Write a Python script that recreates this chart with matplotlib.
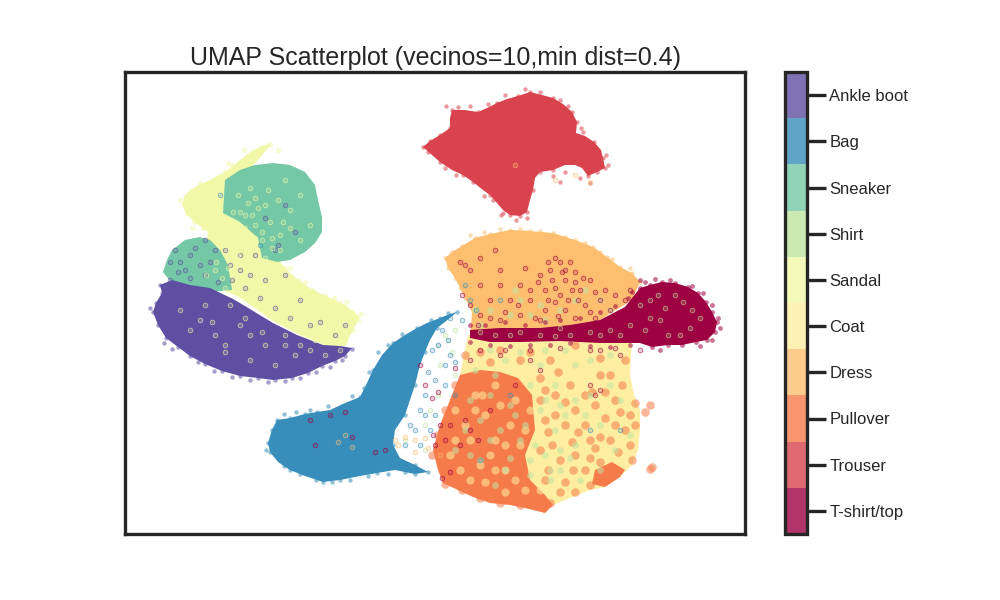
# -*-coding:utf-8-*-
import matplotlib
matplotlib.use('Agg')
import matplotlib.pyplot as plt
import numpy as np
from matplotlib.cm import ScalarMappable
from matplotlib.colors import BoundaryNorm

plt.rcParams['font.family'] = ['Liberation Sans', 'DejaVu Sans']

class_names = ['T-shirt/top', 'Trouser', 'Pullover', 'Dress', 'Coat', 'Sandal', 'Shirt', 'Sneaker', 'Bag', 'Ankle boot']

# contornos de cada nube (no hay escala visible en los ejes)
sandal_area = [(272,143),(262,146),(250,152),(238,162),(225,172),(210,180),(195,187),(185,195),(182,205),(187,215),(197,224),(208,232),(205,250),(208,285),(237,296),(255,308),(273,321),(300,335),(327,346),(345,346),(352,332),(360,317),(345,305),(328,297),(313,290),(298,280),(285,268),(280,262),(255,220),(240,180),(258,160)]
sneaker_area = [(225,180),(240,170),(255,165),(273,163),(290,165),(305,172),(315,185),(318,200),(322,217),(322,232),(315,243),(305,252),(290,260),(277,262),(262,258),(258,238),(240,222),(223,213)]
sneaker_low_area = [(200,237),(185,240),(172,250),(167,260),(163,272),(175,287),(210,292),(232,290),(228,265),(220,250),(210,240)]
boot_area = [(153,312),(156,303),(162,293),(160,285),(172,280),(190,285),(210,288),(233,299),(245,306),(258,314),(273,323),(297,335),(323,345),(340,346),(352,348),(345,356),(335,361),(322,366),(308,373),(292,378),(273,380),(258,378),(240,376),(222,371),(205,364),(190,356),(178,347),(166,338),(158,325)]
trouser_area = [(423,147),(430,141),(440,135),(450,128),(450,118),(452,110),(465,110),(478,112),(487,108),(497,103),(507,99),(518,96),(530,92),(542,95),(553,98),(563,104),(572,112),(577,122),(576,133),(585,136),(594,142),(601,150),(603,158),(605,168),(597,172),(588,176),(582,168),(575,165),(565,165),(553,170),(540,172),(535,178),(533,190),(530,200),(527,212),(520,216),(510,215),(503,210),(497,203),(490,195),(483,190),(473,182),(463,175),(452,170),(440,162),(432,155)]
dress_area = [(445,258),(452,252),(462,246),(475,238),(490,234),(510,230),(530,231),(553,233),(575,240),(593,247),(607,257),(620,267),(632,273),(640,282),(632,300),(600,320),(560,340),(500,345),(470,340),(472,312),(465,298),(460,288),(455,278),(448,268)]
bag_area = [(268,443),(272,430),(277,420),(290,418),(305,414),(317,412),(330,410),(345,403),(360,397),(367,383),(373,370),(382,355),(393,343),(405,335),(417,328),(427,323),(440,318),(450,314),(457,312),(445,322),(437,328),(430,340),(425,352),(420,365),(415,385),(410,400),(405,415),(395,430),(393,445),(400,458),(415,465),(428,472),(415,474),(395,470),(377,473),(360,476),(340,480),(323,482),(305,476),(290,470),(278,462),(270,452)]
coat_area = [(468,335),(500,335),(560,335),(600,335),(632,338),(630,375),(634,395),(640,410),(640,430),(638,450),(632,465),(620,477),(605,487),(590,490),(570,498),(553,505),(540,500),(480,480),(445,450),(455,400)]
pullover_area = [(460,375),(480,370),(500,372),(518,378),(532,395),(535,430),(525,455),(530,480),(545,495),(553,505),(545,513),(537,511),(525,508),(510,505),(490,503),(473,497),(458,490),(443,483),(438,470),(433,450),(440,425),(450,400)]
pullover_low_area = [(595,470),(612,462),(625,470),(620,477),(605,487),(592,484)]
tshirt_area = [(470,330),(500,328),(540,328),(570,325),(600,320),(625,307),(640,288),(650,285),(662,282),(675,283),(688,287),(698,293),(706,302),(712,312),(717,322),(715,332),(707,340),(696,342),(682,345),(668,345),(652,347),(640,343),(600,343),(560,341),(520,342),(490,342),(470,338)]

# bordes irregulares de las nubes
sandal_edge = [(270,144),(262,147),(255,151),(247,156),(240,161),(232,165),(225,172),(218,177),(208,183),(198,187),(190,191),(186,197),(184,205),(187,213),(194,222),(203,228),(285,268),(298,280),(313,290),(325,295),(340,303),(352,312),(358,320),(353,330),(345,342),(278,150),(244,150),(228,163),(200,183),(180,200),(192,228),(334,298),(346,302),(361,314),(305,282),(290,268)]
boot_edge = [(153,312),(156,303),(162,293),(165,285),(166,338),(158,325),(178,347),(190,356),(205,364),(222,371),(240,376),(258,378),(275,380),(292,378),(308,373),(322,366),(335,361),(345,356),(352,349),(160,285),(150,308),(164,343),(172,349),(198,362),(214,371),(232,377),(250,380),(268,382),(285,381),(300,378),(316,372),(330,367),(342,360)]
trouser_edge = [(423,147),(430,141),(440,135),(450,128),(452,110),(478,112),(497,103),(518,96),(530,92),(553,98),(572,112),(577,122),(594,142),(603,158),(605,168),(597,172),(588,176),(580,178),(553,170),(540,172),(533,190),(527,212),(527,218),(520,216),(510,215),(503,213),(490,195),(473,182),(463,175),(440,162),(470,170),(553,176),(565,172),(560,182),(590,183),(446,106),(458,107),(470,106),(488,104),(505,95),(525,89),(540,92),(560,100),(568,106),(581,128),(583,132),(606,155),(608,165),(484,196),(493,200),(501,215),(516,220),(456,175),(445,168),(428,152)]
dress_edge = [(445,258),(452,252),(462,246),(475,238),(490,234),(510,230),(530,231),(553,233),(575,240),(593,247),(607,257),(620,267),(632,273),(640,282),(448,268),(455,278),(460,288),(465,298),(470,235),(484,232),(500,229),(520,229),(540,231),(565,237),(585,243),(600,252),(612,259),(630,268)]
bag_edge = [(268,443),(272,430),(277,420),(290,418),(305,414),(317,412),(360,397),(373,370),(393,343),(417,328),(440,318),(457,312),(437,328),(425,352),(415,385),(405,415),(393,445),(415,465),(428,472),(415,474),(377,473),(340,480),(323,482),(290,470),(270,452),(284,414),(296,412),(310,410),(328,406),(352,396),(364,388),(369,372),(378,352),(388,345),(402,334),(431,320),(448,313),(266,450),(284,466),(300,474),(316,480),(332,482),(350,480),(368,476),(388,474),(405,472)]
tshirt_edge = [(640,288),(650,285),(662,282),(675,283),(688,287),(698,293),(706,302),(712,312),(717,322),(715,332),(707,340),(696,342),(682,345),(668,345),(652,347),(645,282),(655,279),(670,280),(692,286),(703,293),(712,305),(718,318),(720,328),(712,340),(700,346),(660,350),(630,345),(610,347),(590,346),(570,343),(550,345),(530,345),(510,346),(490,345),(470,342),(470,325),(485,325),(505,322),(525,325),(545,322),(560,320),(580,318),(600,312),(615,306),(628,298),(632,292),(640,280)]

# manchas dentro de la zona mezclada de abajo
pullover_spots = [(555,395),(575,410),(595,405),(615,400),(565,425),(590,440),(610,440),(575,455),(600,462),(545,420),(560,460),(570,385),(600,375),(540,400),(585,470),(615,425),(630,445),(520,360),(490,362),(550,360),(575,345),(500,350),(630,415),(625,430),(645,412),(650,405),(635,403),(652,467),(650,469),(565,482),(548,470),(552,445),(578,432),(605,418),(622,385),(592,392),(610,375),(540,378),(558,372),(530,352),(480,352),(465,355),(618,452),(595,448),(573,470),(625,360),(600,358),(545,390),(565,402),(585,395),(605,392),(548,432),(585,425),(600,437),(620,412),(635,425),(632,460),(555,415),(572,442),(590,458),(610,475),(560,492),(575,492),(590,485),(540,450),(545,480),(538,505),(550,503),(520,505),(500,503),(480,498),(462,490),(445,484),(432,455),(438,435),(445,410),(455,385)]
coat_spots = [(470,440),(485,415),(495,440),(510,425),(520,445),(505,470),(480,465),(465,425),(515,400),(495,385),(475,395),(450,455),(525,490),(505,492),(485,482),(535,470),(460,470),(530,410),(490,455),(475,410),(500,405),(525,430),(455,440),(515,480),(495,470),(470,480),(540,490),(482,395),(505,445),(455,410)]
shirt_spots = [(470,400),(490,395),(510,405),(530,385),(480,420),(500,430),(520,440),(540,410),(555,430),(575,445),(600,425),(615,450),(480,460),(505,470),(530,475),(550,470),(495,485),(590,395),(610,385),(575,365),(520,352),(545,350),(490,350),(560,405),(535,445),(515,415),(585,415),(600,470),(560,450),(465,430),(455,450),(520,300),(545,320),(575,300),(595,325),(620,320),(510,315),(480,325),(540,305),(495,375),(540,365),(555,385),(525,425),(575,400),(550,480),(570,458),(475,370),(505,360),(565,350),(590,360),(610,355),(490,310),(515,290),(560,310),(530,315),(600,300),(610,310),(585,290),(475,310),(545,455),(560,470),(580,480),(530,460),(510,458),(490,440),(470,455),(545,400),(565,415),(620,400),(630,435)]

# anillos sueltos encima de los grupos
crimson_rings = [(470,360),(455,368),(438,392),(432,398),(425,385),(420,365),(433,435),(440,425),(445,440),(435,445),(450,425),(465,420),(470,430),(478,440),(460,445),(490,410),(515,385),(470,270),(465,265),(480,285),(500,270),(520,285),(460,262),(540,370),(590,385),(595,395),(600,390),(330,415),(345,412),(375,452),(385,450),(310,420),(315,445),(352,437),(600,350),(620,355),(500,355),(450,472),(442,478),(530,360),(550,270),(560,262),(565,280),(575,272),(545,290),(560,295),(580,290),(590,280),(530,300),(545,310),(565,310),(585,305),(600,300),(610,310),(520,315),(500,320),(555,258),(535,318),(575,318),(595,318),(620,312),(625,300),(552,280),(570,262),(583,278),(538,282),(572,290),(555,302),(595,292),(615,295),(490,300),(510,300),(480,315),(540,275),(565,270),(548,262),(578,300),(605,290),(630,290),(470,305),(462,295),(500,285),(525,268),(480,258),(495,250),(555,288),(562,272),(568,300),(548,300),(575,282),(590,312),(530,290),(518,305),(505,312),(490,318),(478,325),(540,320),(558,316),(610,320),(633,310),(640,350),(615,348),(590,350),(560,348),(530,350),(505,350),(480,350)]
green_rings = [(448,340),(438,345),(455,330),(430,410),(438,395),(440,365),(452,352),(425,425),(405,440),(425,450),(445,335),(455,375),(650,300),(660,320),(675,295),(692,310),(645,330),(680,335),(630,325),(610,330),(570,335),(540,335),(510,335),(560,328),(600,335),(520,332),(665,308),(683,302),(700,318),(668,335),(650,318),(690,328),(658,295),(640,305),(620,335),(590,332),(555,336),(495,335),(480,332)]
bag_rings = [(448,340),(438,345),(450,355),(445,365),(435,380),(455,362),(425,395),(420,410),(415,430),(420,445),(435,415),(430,430),(455,395),(450,318),(462,320),(470,300),(476,310),(480,460),(510,395),(590,430),(620,430),(500,300),(465,285),(220,195),(260,245),(442,330),(432,350),(428,372),(445,385),(425,415),(410,425),(405,445)]
orange_rings = [(398,445),(405,437),(415,452),(428,448),(352,447),(338,442),(345,435),(395,440),(515,165),(555,180),(590,182),(575,175),(425,438),(440,455),(415,440)]
boot_rings = [(205,240),(190,255),(180,262),(200,265),(215,250),(230,265),(240,255),(255,255),(275,250),(285,205),(295,232),(278,245),(265,218),(240,270),(170,262),(175,250),(195,248),(185,270),(210,262),(225,250),(250,275),(265,280),(285,275),(300,300),(320,322),(335,335),(345,325),(310,325),(218,282),(232,280),(205,275),(190,278),(178,272),(170,280),(245,288),(260,298),(275,308),(290,318)]
yellow_rings = [(180,310),(200,320),(215,335),(225,345),(240,325),(250,335),(265,345),(285,345),(295,355),(310,350),(325,355),(230,305),(205,305),(250,360),(275,365),(245,318),(262,332),(300,345),(212,322),(340,350),(225,352),(190,330),(345,335),(315,340),(285,335),(245,215),(255,225),(240,235),(262,240),(272,248),(250,250),(235,222),(280,235),(265,258),(225,245),(233,212),(248,203),(290,228),(258,208),(270,222),(243,243),(255,238),(280,250),(238,255),(228,268),(240,278),(216,262),(206,275),(225,288),(238,195),(250,188),(268,190),(285,180),(300,195),(290,210),(300,240),(310,225),(245,228),(252,215),(262,232),(272,238),(283,222),(265,205),(278,200),(215,270),(222,278),(232,255),(245,265),(258,272),(240,212),(255,198)]


cmap = plt.get_cmap('Spectral', 10)

fig = plt.figure(figsize=(10, 6), dpi=100)
ax = fig.add_axes([0.125, 0.11, 0.62, 0.77])


def area(contorno, idx):
    pts = np.array(contorno)
    ax.fill(pts[:, 0], pts[:, 1], color=cmap(idx), linewidth=0)


def puntos(nube, idx, tam):
    pts = np.array(nube)
    ax.scatter(pts[:, 0], pts[:, 1], s=tam, color=cmap(idx), linewidths=0, alpha=0.55)


def anillos(nube, idx):
    # relleno flojo y borde mas marcado, como los puntos originales
    pts = np.array(nube)
    r, g, b, _ = cmap(idx)
    ax.scatter(pts[:, 0], pts[:, 1], s=11, facecolor=(r, g, b, 0.2), edgecolor=(r, g, b, 0.65), linewidths=0.6)


# el orden importa: lo que va encima tapa a lo anterior
area(sandal_area, 5)
puntos(sandal_edge, 5, 14)
area(sneaker_area, 7)
area(sneaker_low_area, 7)
area(boot_area, 9)
puntos(boot_edge, 9, 10)
area(trouser_area, 1)
puntos(trouser_edge, 1, 10)
area(dress_area, 3)
puntos(dress_edge, 3, 10)
area(bag_area, 8)
puntos(bag_edge, 8, 10)
area(coat_area, 4)
area(pullover_area, 2)
area(pullover_low_area, 2)
puntos(coat_spots, 4, 35)
puntos(pullover_spots, 2, 38)
puntos(shirt_spots, 6, 24)
area(tshirt_area, 0)
puntos(tshirt_edge, 0, 12)

anillos(green_rings, 6)
anillos(crimson_rings, 0)
anillos(bag_rings, 8)
anillos(orange_rings, 3)
anillos(boot_rings, 9)
anillos(yellow_rings, 5)

# ejes en la misma escala de lectura de los puntos
ax.set_xlim(125, 745)
ax.set_ylim(534, 72)
ax.set_xticks([])
ax.set_yticks([])
for lado in ax.spines.values():
    lado.set_linewidth(2.4)
    lado.set_color('#262626')
ax.set_title('UMAP Scatterplot (vecinos=10,min dist=0.4)', fontsize=18, color='#262626', pad=5)

# barra de color
cax = fig.add_axes([0.785, 0.11, 0.022, 0.77])
norm = BoundaryNorm(np.arange(11) - 0.5, 10)
cb = fig.colorbar(ScalarMappable(norm=norm, cmap=cmap), cax=cax, alpha=0.8, ticks=np.arange(10))
cb.ax.set_yticklabels(class_names, fontsize=12, color='#262626')
cb.ax.tick_params(length=14, width=2.4, color='#262626', pad=2)
cb.ax.minorticks_off()
cb.outline.set_linewidth(2.4)
cb.outline.set_edgecolor('#262626')

plt.savefig('out.png', dpi=100)
